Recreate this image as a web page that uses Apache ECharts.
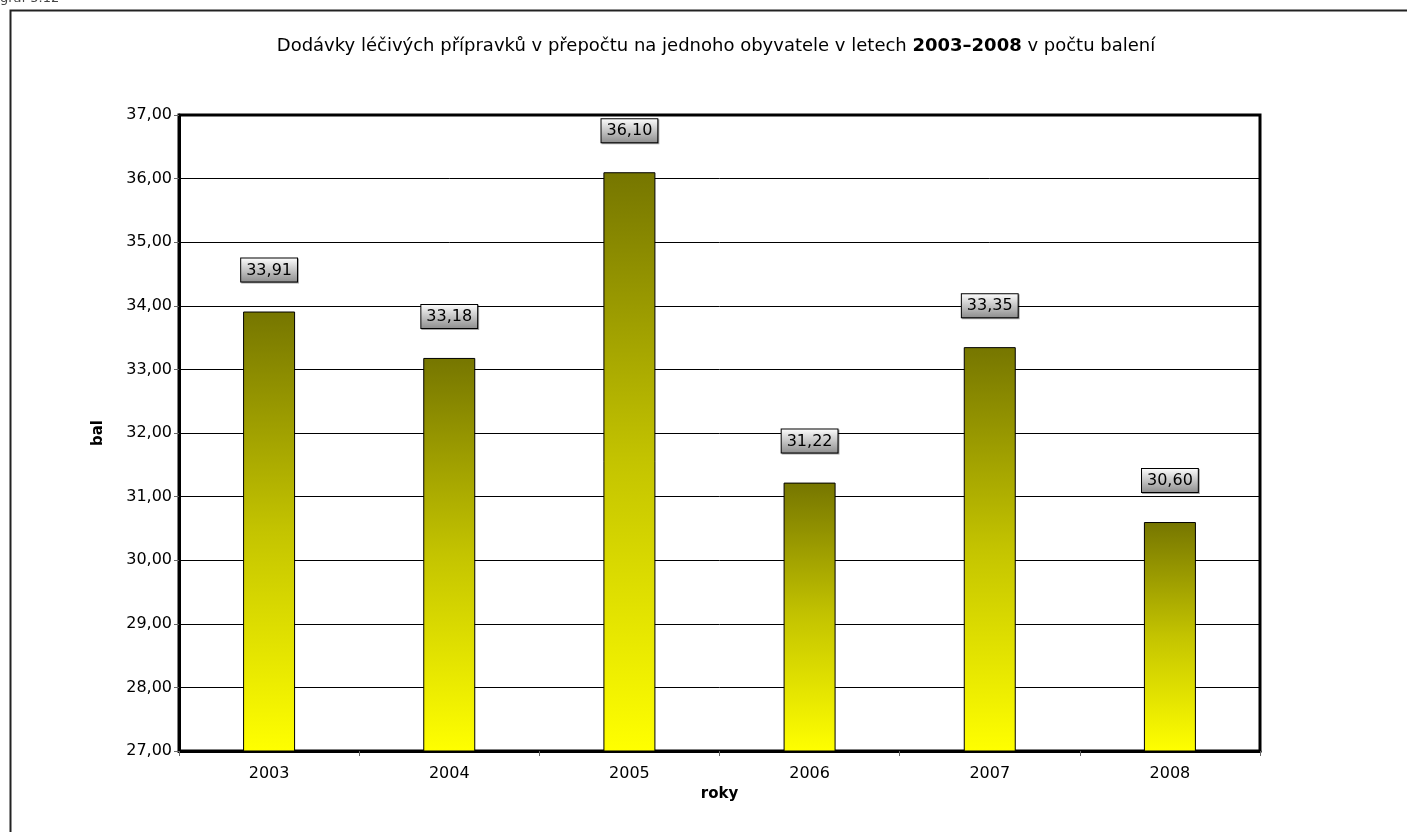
<!DOCTYPE html>
<html>
<head>
<meta charset="utf-8">
<script src="https://cdn.jsdelivr.net/npm/echarts@6/dist/echarts.min.js"></script>
<style>
  html, body { margin: 0; padding: 0; background: #fff; }
  #chart { width: 1407px; height: 832px; }
</style>
</head>
<body>
<div id="chart"></div>
<script>
// Supplies of medicinal products per inhabitant (packages), 2003–2008
const years = ['2003', '2004', '2005', '2006', '2007', '2008'];
const packagesPerCapita = [33.91, 33.18, 36.10, 31.22, 33.35, 30.60];
const yTicks = { min: 27, max: 37, interval: 1 };

const FONT = '"DejaVu Sans", "Liberation Sans", Arial, sans-serif';
const fmt = v => v.toFixed(2).replace('.', ',');

const chart = echarts.init(document.getElementById('chart'), null, { renderer: 'canvas' });

chart.setOption({
  backgroundColor: '#fff',
  animation: false,
  textStyle: { fontFamily: FONT },
  graphic: [
    // outer frame of the figure
    {
      type: 'rect', z: -1,
      shape: { x: 10.5, y: 10.5, width: 1420, height: 840 },
      style: { fill: 'none', stroke: '#222', lineWidth: 2 }
    },
    {
      type: 'text', x: 0, y: -8,
      style: { text: 'graf 5.12', fill: '#444', font: '13px ' + FONT }
    },
    {
      type: 'text', x: 716, y: 46,
      style: {
        text: '{n|Dodávky léčivých přípravků v přepočtu na jednoho obyvatele v letech }{b|2003–2008}{n| v počtu balení}',
        align: 'center', verticalAlign: 'middle',
        rich: {
          n: { fontSize: 18, fontFamily: FONT, fill: '#000' },
          b: { fontSize: 18, fontFamily: FONT, fontWeight: 'bold', fill: '#000' }
        }
      }
    }
  ],
  grid: {
    left: 179, top: 115, right: 147, bottom: 81,
    show: true, borderColor: '#000', borderWidth: 3,
    containLabel: false
  },
  xAxis: {
    type: 'category',
    data: years,
    name: 'roky',
    nameLocation: 'middle',
    nameGap: 28,
    nameTextStyle: { fontFamily: FONT, fontSize: 15, fontWeight: 'bold', color: '#000' },
    axisLine: { show: true, lineStyle: { color: '#000', width: 3 } },
    axisTick: { show: true, alignWithLabel: false, length: 5, lineStyle: { color: '#666', width: 1 } },
    axisLabel: { fontFamily: FONT, fontSize: 16, color: '#000', margin: 15 },
    splitLine: { show: false }
  },
  yAxis: {
    type: 'value',
    min: yTicks.min, max: yTicks.max, interval: yTicks.interval,
    name: 'bal',
    nameLocation: 'middle',
    nameRotate: 90,
    nameGap: 73,
    nameTextStyle: { fontFamily: FONT, fontSize: 15, fontWeight: 'bold', color: '#000' },
    axisLine: { show: true, lineStyle: { color: '#000', width: 3 } },
    axisTick: { show: true, length: 5, lineStyle: { color: '#666', width: 1 } },
    axisLabel: { fontFamily: FONT, fontSize: 16, color: '#000', margin: 7, formatter: v => fmt(v) },
    splitLine: { show: true, lineStyle: { color: '#000', width: 1 } }
  },
  series: [{
    type: 'bar',
    data: packagesPerCapita,
    barWidth: 52,
    itemStyle: {
      borderColor: '#000',
      borderWidth: 1,
      color: new echarts.graphic.LinearGradient(0, 0, 0, 1, [
        { offset: 0, color: '#767600' },
        { offset: 0.5, color: '#c4c400' },
        { offset: 1, color: '#ffff00' }
      ])
    },
    label: {
      show: true,
      position: 'top',
      distance: 30,
      formatter: p => fmt(p.value),
      fontFamily: FONT,
      fontSize: 16,
      color: '#000',
      padding: [4, 5, 3, 5],
      borderColor: '#000',
      borderWidth: 1,
      backgroundColor: new echarts.graphic.LinearGradient(0, 0, 0, 1, [
        { offset: 0, color: '#ffffff' },
        { offset: 1, color: '#8c8c8c' }
      ]),
      shadowColor: 'rgba(0,0,0,0.35)',
      shadowOffsetX: 1,
      shadowOffsetY: 1,
      shadowBlur: 0
    }
  }]
});
</script>
</body>
</html>
